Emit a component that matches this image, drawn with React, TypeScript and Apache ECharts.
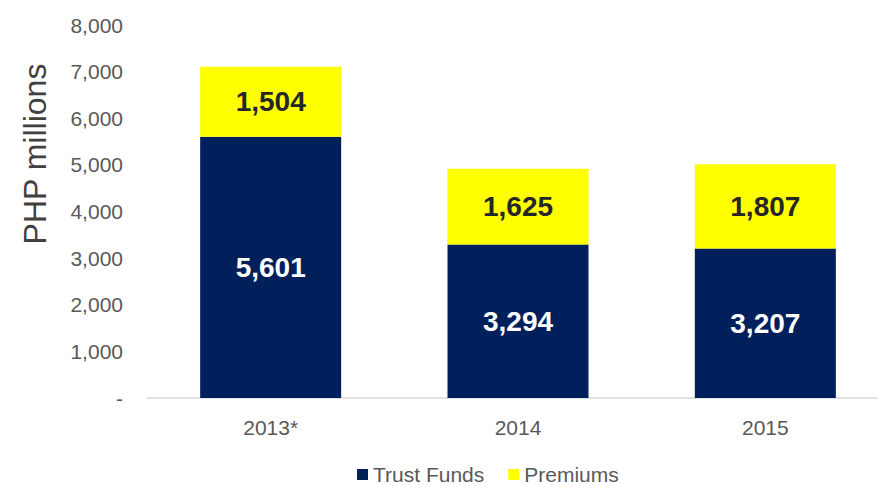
import React, { useEffect, useRef } from "react";
import * as echarts from "echarts";

const categories = ["2013*", "2014", "2015"];
const trustFunds = [5601, 3294, 3207];
const premiums = [1504, 1625, 1807];
const yTicks = [0, 1000, 2000, 3000, 4000, 5000, 6000, 7000, 8000];

const FONT = "'Liberation Sans', Arial, sans-serif";

export default function App() {
  const ref = useRef<HTMLDivElement>(null);
  useEffect(() => {
    if (!ref.current) return;
    const chart = echarts.init(ref.current, null, { renderer: "svg" });
    chart.setOption({
      animation: false,
      textStyle: { fontFamily: FONT },
      grid: {
        left: 147,
        top: 25,
        width: 742,
        height: 373,
        containLabel: false,
        outerBoundsMode: "none",
      },
      legend: {
        left: 352,
        top: 459,
        icon: "rect",
        itemWidth: 11,
        itemHeight: 11,
        itemGap: 24,
        textStyle: { fontSize: 21, color: "#595959", fontFamily: FONT },
        data: ["Trust Funds", "Premiums"],
      },
      xAxis: {
        type: "category",
        data: categories,
        axisLine: { lineStyle: { color: "#d9d9d9", width: 1.5 } },
        axisTick: { show: false },
        axisLabel: { fontSize: 21, color: "#595959", margin: 19, fontFamily: FONT },
      },
      yAxis: {
        type: "value",
        min: yTicks[0],
        max: yTicks[yTicks.length - 1],
        interval: 1000,
        splitLine: { show: false },
        axisLine: { show: false },
        axisTick: { show: false },
        axisLabel: {
          fontSize: 21,
          color: "#595959",
          margin: 24,
          fontFamily: FONT,
          formatter: (v: number) => (v === 0 ? "-" : v.toLocaleString("en-US")),
        },
      },
      graphic: [
        {
          type: "text",
          x: 35,
          y: 154,
          rotation: Math.PI / 2,
          style: {
            text: "PHP millions",
            fontSize: 32,
            fill: "#404040",
            fontFamily: FONT,
            textAlign: "center",
            textVerticalAlign: "middle",
          },
        },
      ],
      series: [
        {
          name: "Trust Funds",
          type: "bar",
          stack: "total",
          data: trustFunds,
          barWidth: 141,
          itemStyle: { color: "#00205b" },
          label: {
            show: true,
            position: "inside",
            color: "#ffffff",
            fontSize: 28,
            fontWeight: "bold",
            fontFamily: FONT,
            formatter: (p: any) => Number(p.value).toLocaleString("en-US"),
          },
        },
        {
          name: "Premiums",
          type: "bar",
          stack: "total",
          data: premiums,
          barWidth: 141,
          itemStyle: { color: "#ffff00" },
          label: {
            show: true,
            position: "inside",
            color: "#262626",
            fontSize: 28,
            fontWeight: "bold",
            fontFamily: FONT,
            formatter: (p: any) => Number(p.value).toLocaleString("en-US"),
          },
        },
      ],
    });
    return () => chart.dispose();
  }, []);
  return (
    <div
      ref={ref}
      style={{ position: "absolute", left: 0, top: 0, width: 878, height: 486 }}
    />
  );
}
